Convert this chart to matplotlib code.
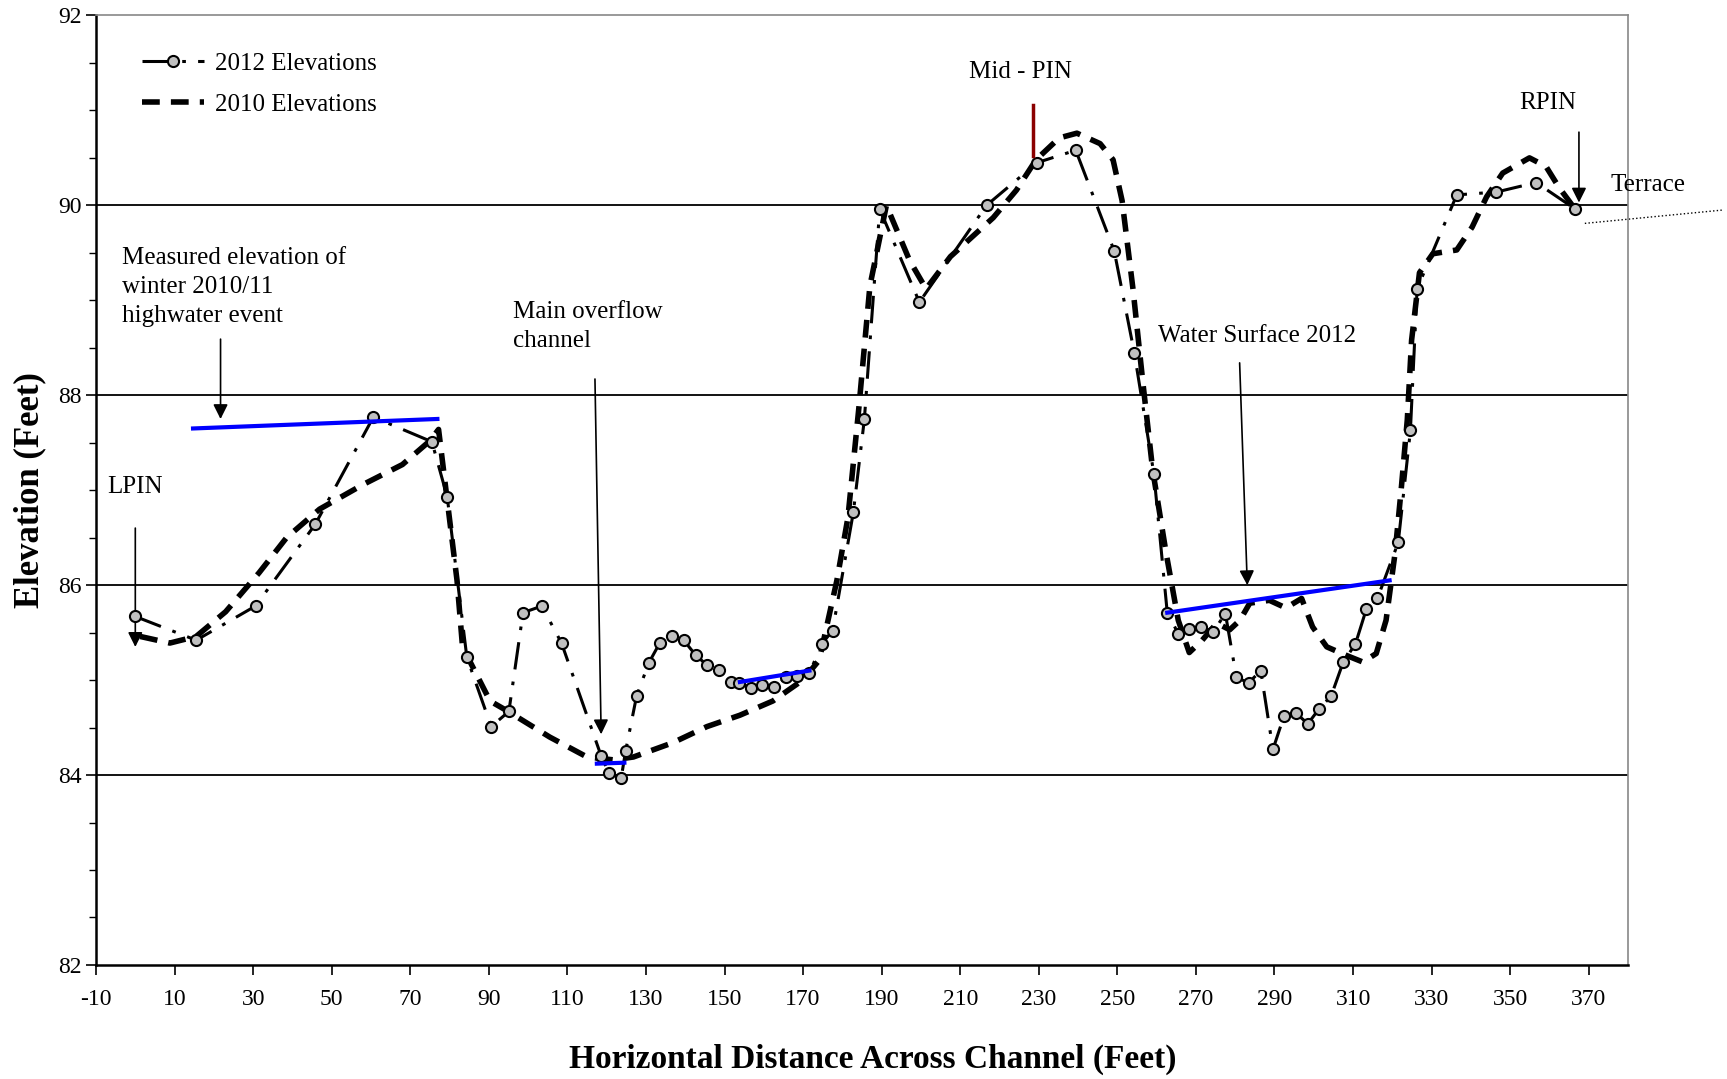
import matplotlib.pyplot as plt
from matplotlib.ticker import MultipleLocator, FixedLocator

plt.rcParams['font.family'] = ['Liberation Serif', 'DejaVu Serif']
plt.rcParams['axes.unicode_minus'] = False

# 2012 surveyed elevations
x_2012 = [0, 15.5, 30.6, 45.8, 60.6, 75.5, 79.4, 84.4, 90.6, 95.1, 98.7, 103.5, 108.5,
          118.6, 120.6, 123.7, 124.8, 127.6, 130.7, 133.5, 136.6, 139.6, 142.7, 145.5,
          148.6, 151.7, 153.7, 156.7, 159.5, 162.6, 165.7, 168.5, 171.6, 174.7, 177.5,
          182.8, 185.6, 189.5, 199.6, 216.7, 229.6, 239.4, 249.2, 254.3, 259.3, 262.7,
          265.5, 268.3, 271.4, 274.4, 277.5, 280.3, 283.4, 286.5, 289.6, 292.4, 295.5,
          298.5, 301.4, 304.4, 307.5, 310.6, 313.4, 316.2, 321.5, 324.6, 326.3, 336.4,
          346.5, 356.6, 366.6]
y_2012 = [85.67, 85.42, 85.78, 86.64, 87.77, 87.51, 86.93, 85.24, 84.51, 84.67, 85.71,
          85.78, 85.39, 84.20, 84.02, 83.97, 84.25, 84.83, 85.18, 85.39, 85.46, 85.42,
          85.26, 85.16, 85.11, 84.98, 84.97, 84.92, 84.95, 84.93, 85.03, 85.04, 85.07,
          85.38, 85.52, 86.77, 87.75, 89.96, 88.98, 90.00, 90.45, 90.58, 89.52, 88.45,
          87.17, 85.71, 85.49, 85.54, 85.56, 85.51, 85.70, 85.03, 84.97, 85.10, 84.27,
          84.62, 84.65, 84.54, 84.70, 84.83, 85.19, 85.38, 85.75, 85.86, 86.45, 87.63,
          89.12, 90.11, 90.14, 90.24, 89.96]

# 2010 elevations (traced profile)
x_2010 = [1.2, 8.8, 15.5, 23, 31.5, 38.5, 46.9, 58, 68, 75, 77.2, 81.9, 83.3, 90.3, 94.5,
          105.5, 115, 121.7, 126.8, 136.8, 145.5, 153.9, 162.3, 169.9, 174.1, 178.6,
          181.4, 184.2, 187, 191.2, 197.1, 201.3, 207.5, 218.4, 224.3, 229.3, 235.2,
          239.7, 245.6, 248.9, 251.2, 254, 256.5, 259, 262.4, 265.5, 268.3, 271.6,
          275.3, 278.6, 281.2, 283.7, 288.7, 292.9, 296.9, 299.7, 303.3, 308.3, 312.5,
          315.9, 318.4, 320.7, 322.3, 323.8, 324.9, 326.9, 330.3, 336.4, 340.3, 344,
          348.1, 354.9, 359.1, 362.4, 365.8]
y_2010 = [85.46, 85.39, 85.46, 85.72, 86.13, 86.5, 86.8, 87.06, 87.27, 87.52, 87.64,
          86.05, 85.35, 84.78, 84.68, 84.40, 84.19, 84.16, 84.19, 84.34, 84.51, 84.63,
          84.78, 85.0, 85.21, 86.05, 86.71, 87.87, 89.15, 90.0, 89.42, 89.12, 89.46,
          89.87, 90.16, 90.48, 90.71, 90.76, 90.65, 90.48, 90.05, 89.11, 88.13, 87.21,
          86.34, 85.63, 85.29, 85.42, 85.60, 85.53, 85.63, 85.81, 85.84, 85.76, 85.86,
          85.56, 85.35, 85.26, 85.19, 85.28, 85.63, 86.34, 87.03, 87.74, 88.58, 89.29,
          89.49, 89.53, 89.77, 90.09, 90.34, 90.50, 90.41, 90.19, 90.0]

# water surface lines (start x, end x, start y, end y)
ws_x0 = [14.7, 117.5, 153.9, 262.7]
ws_x1 = [76.9, 124.5, 171.6, 319.3]
ws_y0 = [87.65, 84.12, 84.98, 85.71]
ws_y1 = [87.75, 84.13, 85.10, 86.05]

fig = plt.figure(figsize=(17.27, 10.79), dpi=100)
ax = fig.add_axes([0.0556, 0.1057, 0.8871, 0.88])

ax.set_xlim(-10, 380)
ax.set_ylim(82, 92)

# gridlines
for gy in [84, 86, 88, 90]:
    ax.axhline(gy, color='black', lw=1.3, zorder=1)

ax.plot(x_2010, y_2010, color='black', lw=4, linestyle=(0, (3.2, 2)),
        label='2010 Elevations', zorder=3)
ax.plot(x_2012, y_2012, color='black', lw=2.2, linestyle=(0, (9, 4, 1.2, 4)),
        marker='o', markersize=8, markerfacecolor='#c0c0c0', markeredgecolor='black',
        markeredgewidth=1.5, label='2012 Elevations', zorder=4)

for a, b, c, d in zip(ws_x0, ws_x1, ws_y0, ws_y1):
    ax.plot([a, b], [c, d], color='#0000ff', lw=3, zorder=5)

# annotations
fs = 18
arrow = dict(arrowstyle='-|>', color='black', lw=1.2, mutation_scale=22)
ax.text(-7.2, 87.03, 'LPIN', fontsize=fs, ha='left', va='center')
ax.annotate('', xy=(0, 85.32), xytext=(0, 86.63), arrowprops=arrow)

ax.text(-3.3, 89.56, 'Measured elevation of\nwinter 2010/11\nhighwater event', fontsize=fs,
        ha='left', va='top', linespacing=1.4)
ax.annotate('', xy=(21.7, 87.72), xytext=(21.7, 88.62), arrowprops=arrow)

ax.text(96.2, 88.99, 'Main overflow\nchannel', fontsize=fs, ha='left', va='top',
        linespacing=1.4)
ax.annotate('', xy=(118.6, 84.4), xytext=(117, 88.2), arrowprops=arrow)

ax.text(225.4, 91.4, 'Mid - PIN', fontsize=fs, ha='center', va='center')
ax.plot([228.6, 228.6], [90.52, 91.06], color='#8b0000', lw=2.5, zorder=5)

ax.text(260.4, 88.62, 'Water Surface 2012', fontsize=fs, ha='left', va='center')
ax.annotate('', xy=(283.1, 85.97), xytext=(281.1, 88.37), arrowprops=arrow)

ax.text(359.6, 91.08, 'RPIN', fontsize=fs, ha='center', va='center')
ax.annotate('', xy=(367.5, 90.0), xytext=(367.5, 90.8), arrowprops=arrow)

ax.text(375.6, 90.21, 'Terrace', fontsize=fs, ha='left', va='center', clip_on=False)
ax.plot([369, 404], [89.81, 89.95], color='black', lw=1, linestyle=':', clip_on=False)

# ticks
ax.xaxis.set_major_locator(FixedLocator(list(range(-10, 371, 20))))
ax.yaxis.set_major_locator(MultipleLocator(2))
ax.yaxis.set_minor_locator(MultipleLocator(0.5))
ax.tick_params(axis='both', which='major', direction='out', length=7, width=1.2,
               labelsize=17)
ax.tick_params(axis='x', which='major', pad=10)
ax.tick_params(axis='y', which='minor', direction='out', length=5, width=1)

for side in ['left', 'bottom']:
    ax.spines[side].set_linewidth(1.8)
for side in ['top', 'right']:
    ax.spines[side].set_color('#888888')
    ax.spines[side].set_linewidth(1.2)

ax.set_ylabel('Elevation (Feet)', fontsize=25, fontweight='bold', labelpad=8)
fig.text(0.5055, 0.018, 'Horizontal Distance Across Channel (Feet)', fontsize=24,
         fontweight='bold', ha='center', va='center')

handles, labels = ax.get_legend_handles_labels()
ax.legend(handles[::-1], labels[::-1], loc='upper left', bbox_to_anchor=(0.015, 0.985),
          frameon=False, fontsize=18, handlelength=2.5, handletextpad=0.45,
          labelspacing=0.75)

plt.savefig('out.png', dpi=100)
plt.close()
